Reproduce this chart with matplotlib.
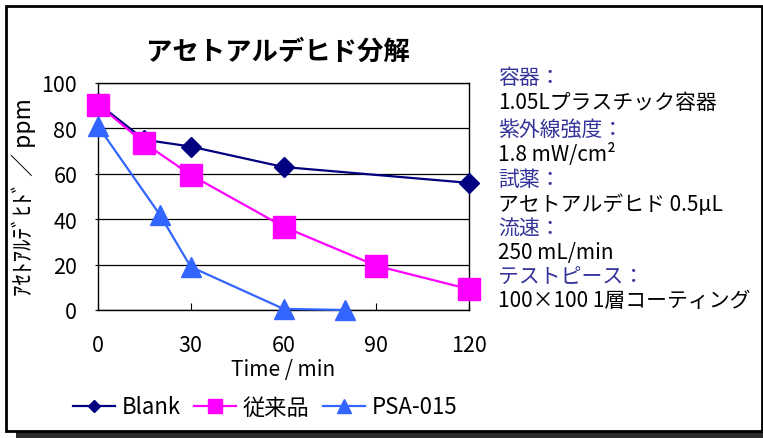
import matplotlib
matplotlib.use("Agg")
import matplotlib.pyplot as plt
from matplotlib.patches import Rectangle

plt.rcParams['font.family'] = ['Noto Sans CJK JP', 'DejaVu Sans']

# data
blank_t = [0, 15, 30, 60, 120]
blank_v = [91, 75, 72, 63, 56]
conv_t = [0, 15, 30, 60, 90, 120]
conv_v = [90.5, 73.5, 59.5, 36.7, 19.5, 9.2]
psa_t = [0, 20, 30, 60, 80]
psa_v = [81, 42, 19, 0.5, 0]

series_names = ['Blank', '従来品', 'PSA-015']
x_ticks = [0, 30, 60, 90, 120]
y_ticks = [0, 20, 40, 60, 80, 100]

info_labels = ['容器：', '紫外線強度：', '試薬：', '流速：', 'テストピース：']
info_values = ['1.05Lプラスチック容器', '1.8 mW/cm²', 'アセトアルデヒド 0.5μL',
               '250 mL/min', '100×100 1層コーティング']

W, H = 763, 439
fig = plt.figure(figsize=(W / 100, H / 100), dpi=100)

# outer frame with dark shadow
fig.patches.append(Rectangle((16 / W, 0), (W - 16) / W, 7 / H, transform=fig.transFigure,
                             facecolor='#2b2b2b', edgecolor='none', zorder=0))
fig.patches.append(Rectangle((6 / W, 1 - 432 / H), 756 / W, 425 / H, transform=fig.transFigure,
                             facecolor='white', edgecolor='black', linewidth=2, zorder=1))

# plot area 98..469 px wide, 84..311 px tall
ax = fig.add_axes([98 / W, 1 - 311 / H, 371 / W, 227 / H])
ax.set_zorder(5)
ax.set_xlim(0, 120)
ax.set_ylim(0, 100)
ax.set_xticks(x_ticks)
ax.set_yticks(y_ticks)
ax.yaxis.grid(True, color='black', linewidth=0.9)
ax.set_axisbelow(True)
for s in ax.spines.values():
    s.set_linewidth(1.0)
ax.tick_params(axis='x', direction='in', length=5, pad=17, labelsize=15.5)
ax.tick_params(axis='y', direction='out', length=2, pad=13, labelsize=15.5)

ax.plot(blank_t, blank_v, color='#000080', lw=1.6, marker='D', ms=10,
        clip_on=False, zorder=3, label=series_names[0])
ax.plot(conv_t, conv_v, color='#ff00ff', lw=1.6, marker='s', ms=15.5,
        clip_on=False, zorder=4, label=series_names[1])
ax.plot(psa_t, psa_v, color='#3366ff', lw=1.6, marker='^', ms=15,
        clip_on=False, zorder=5, label=series_names[2])

fig.text(278 / W, 1 - 52 / H, 'アセトアルデヒド分解', ha='center', va='center',
         fontsize=19, fontweight='bold', zorder=6)
fig.text(283 / W, 1 - 370 / H, 'Time / min', ha='center', va='center', fontsize=15, zorder=6)
fig.text(24 / W, 1 - 197 / H, 'ｱｾﾄｱﾙﾃﾞﾋﾄﾞ ／ ppm', ha='center', va='center',
         rotation=90, fontsize=16.5, zorder=6)

label_y = [78, 130, 180, 230, 278]
value_y = [103, 155, 205, 253, 301]
for lab, val, ly, vy in zip(info_labels, info_values, label_y, value_y):
    fig.text(498 / W, 1 - ly / H, lab, ha='left', va='center', fontsize=15,
             color='#333399', zorder=6)
    fig.text(498 / W, 1 - vy / H, val, ha='left', va='center', fontsize=15,
             color='black', zorder=6)

h, l = ax.get_legend_handles_labels()
leg = fig.legend(h, l, loc='center', bbox_to_anchor=(265 / W, 1 - 408 / H), ncol=3,
                 frameon=False, fontsize=16, markerscale=0.65, handlelength=1.9,
                 handletextpad=0.3, columnspacing=0.6)
leg.set_zorder(6)

fig.savefig('out.png', dpi=100)
